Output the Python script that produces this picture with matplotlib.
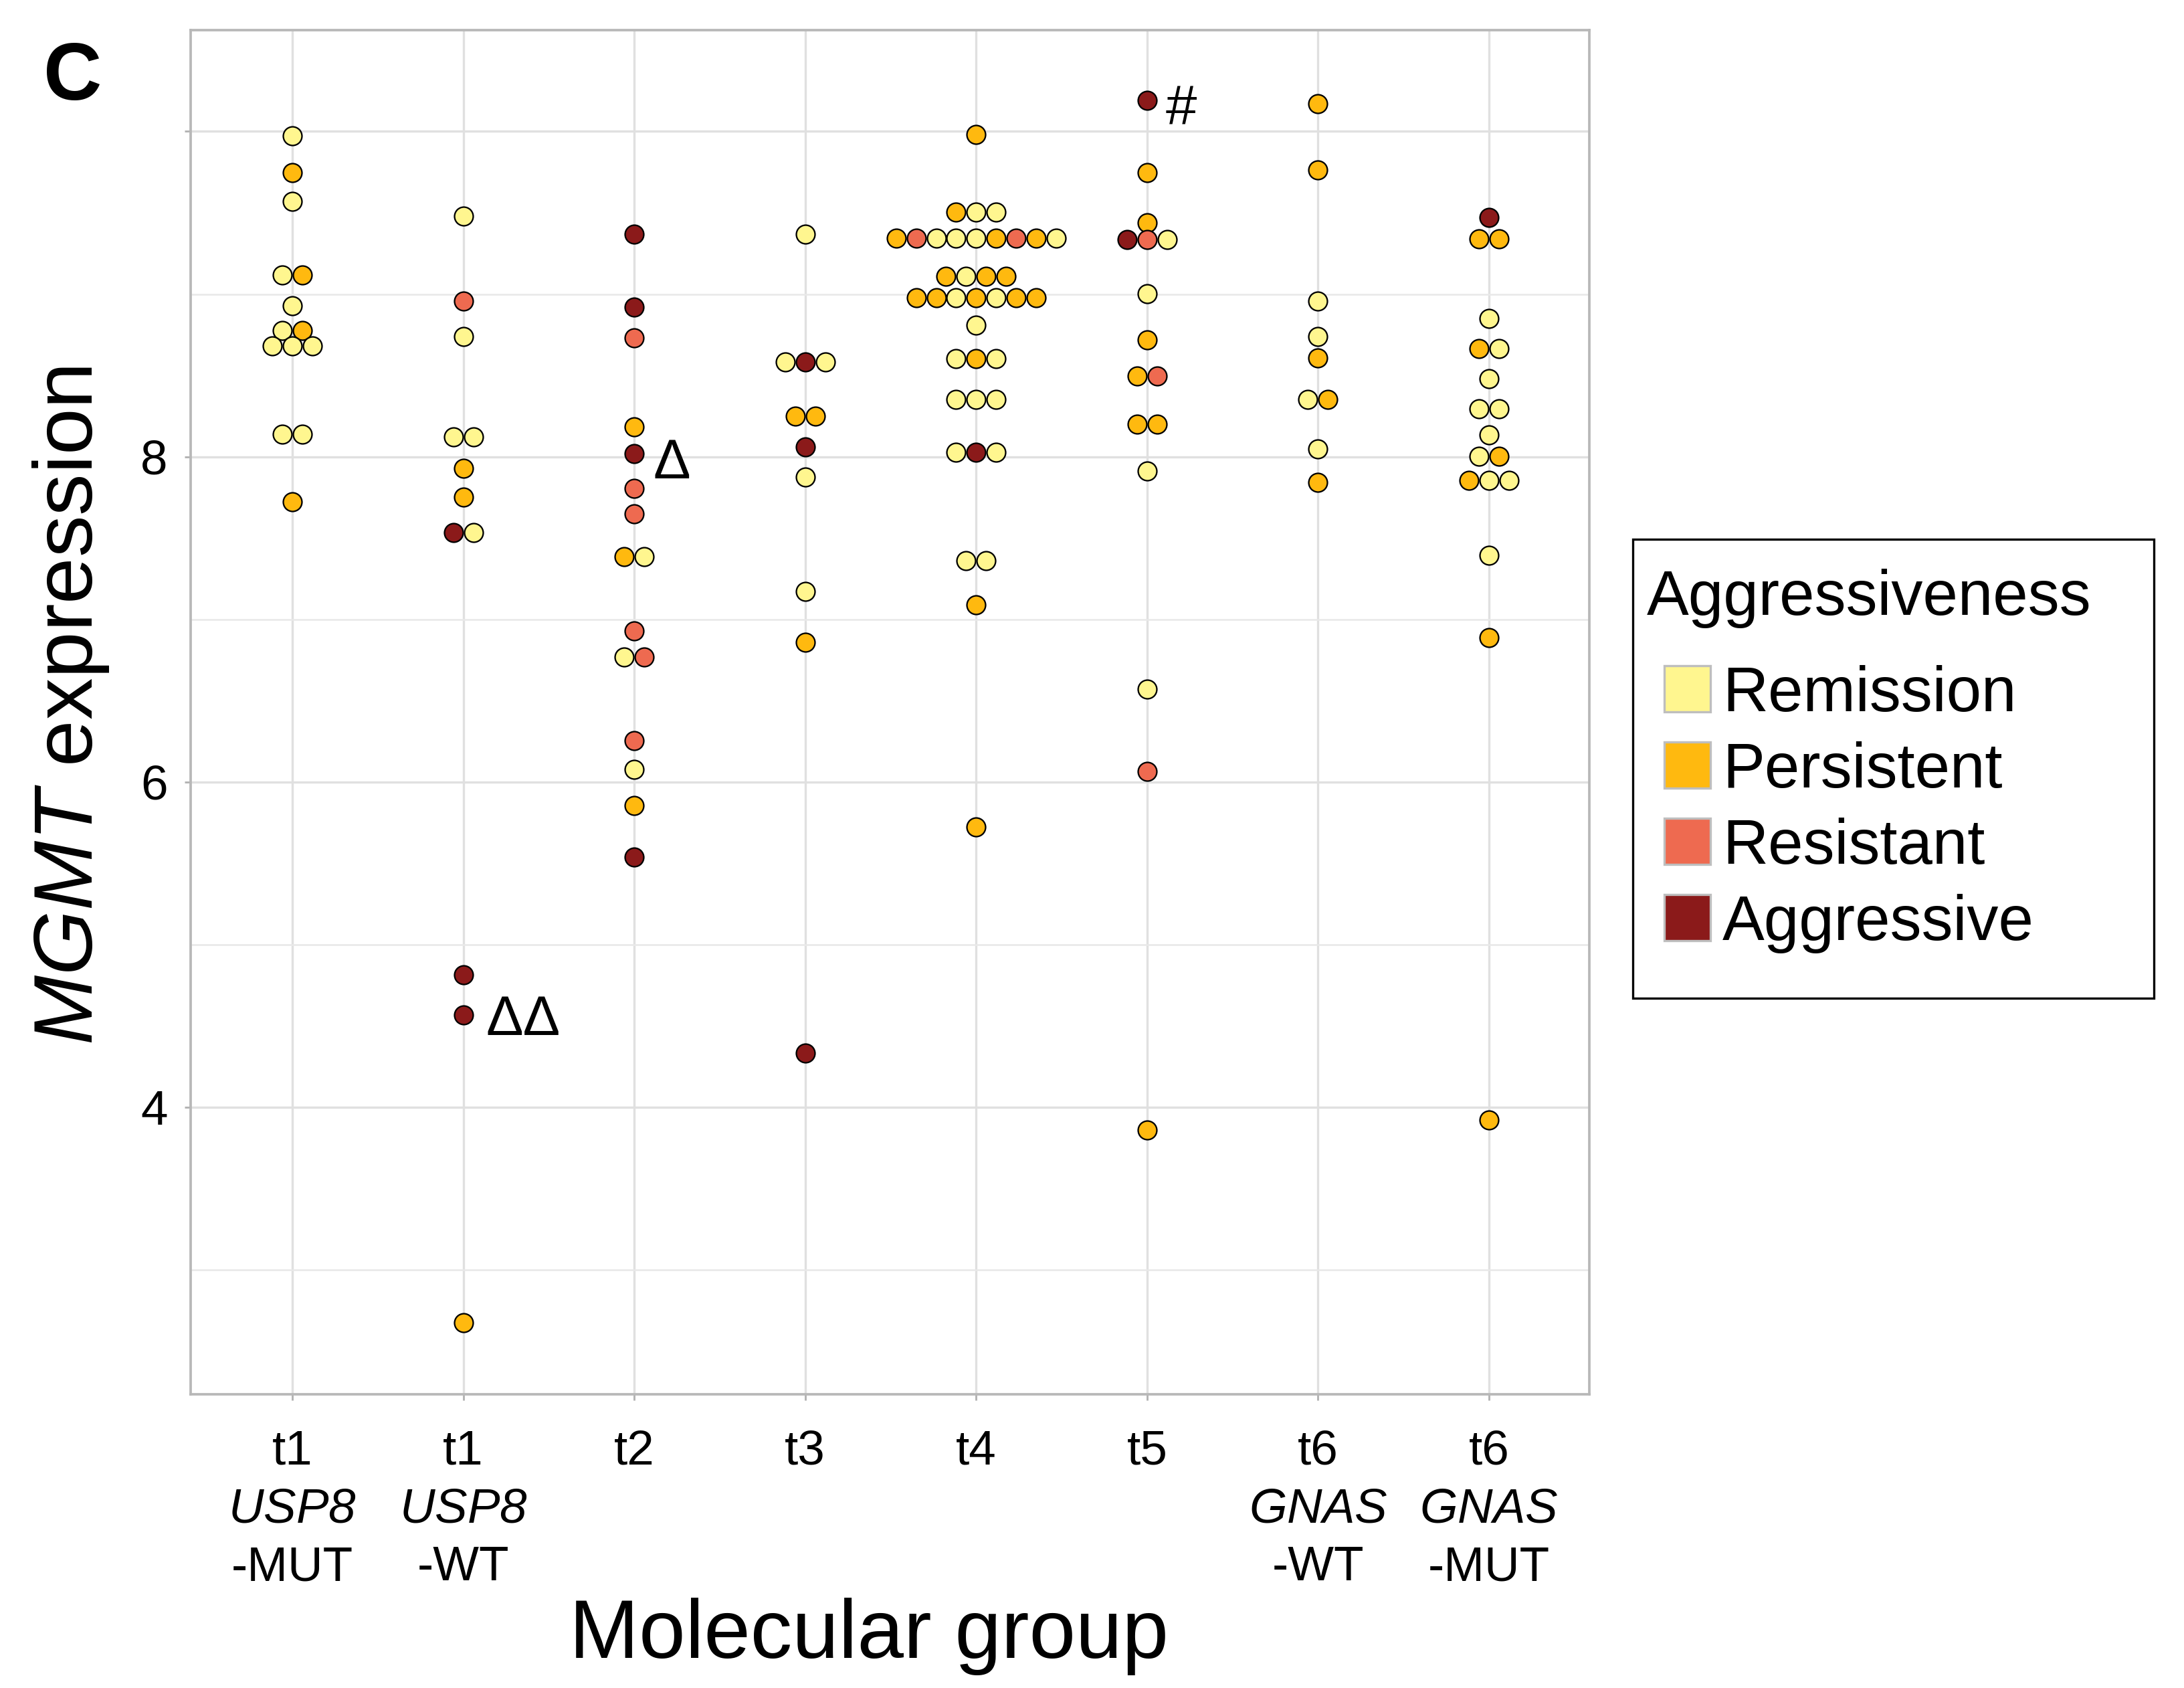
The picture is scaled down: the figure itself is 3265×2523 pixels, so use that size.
import matplotlib
matplotlib.use("Agg")
import matplotlib.pyplot as plt
from matplotlib.patches import Rectangle

plt.rcParams['font.family'] = 'Liberation Sans'
# math text is only used for the italic gene names, digits included
plt.rcParams['mathtext.fontset'] = 'custom'
plt.rcParams['mathtext.rm'] = 'Liberation Sans:italic'
plt.rcParams['mathtext.it'] = 'Liberation Sans:italic'

# Aggressiveness classes and their fill colours
classes = ["Remission", "Persistent", "Resistant", "Aggressive"]
class_codes = ["Rem", "Per", "Res", "Agg"]
class_colors = ["#FFF68F", "#FFB90F", "#EE6A50", "#8B1A1A"]

# Molecular groups (x axis)
group_labels = ["t1\n$\\mathit{USP8}$\n-MUT", "t1\n$\\mathit{USP8}$\n-WT", "t2", "t3",
                "t4", "t5", "t6\n$\\mathit{GNAS}$\n-WT", "t6\n$\\mathit{GNAS}$\n-MUT"]

# MGMT expression per sample, equal values sit in one row of the dot plot
t1_mut_vals = [9.973, 9.748, 9.572, 9.117, 9.117, 8.930, 8.776, 8.776,
               8.682, 8.682, 8.682, 8.138, 8.138, 7.724]
t1_mut_cls = ["Rem", "Per", "Rem", "Rem", "Per", "Rem", "Rem", "Per",
              "Rem", "Rem", "Rem", "Rem", "Rem", "Per"]

t1_wt_vals = [9.480, 8.957, 8.738, 8.123, 8.123, 7.929, 7.751, 7.535, 7.535,
              4.813, 4.567, 2.675]
t1_wt_cls = ["Rem", "Res", "Rem", "Rem", "Rem", "Per", "Per", "Agg", "Rem",
             "Agg", "Agg", "Per"]

t2_vals = [9.369, 8.921, 8.731, 8.183, 8.020, 7.806, 7.650, 7.385, 7.385,
           6.931, 6.768, 6.768, 6.256, 6.076, 5.856, 5.538]
t2_cls = ["Agg", "Agg", "Res", "Per", "Agg", "Res", "Res", "Per", "Rem",
          "Res", "Rem", "Res", "Res", "Rem", "Per", "Agg"]

t3_vals = [9.369, 8.584, 8.584, 8.584, 8.250, 8.250, 8.060, 7.875, 7.171,
           6.859, 4.334]
t3_cls = ["Rem", "Rem", "Agg", "Rem", "Per", "Per", "Agg", "Rem", "Rem",
          "Per", "Agg"]

t4_vals = [9.982,
           9.505, 9.505, 9.505,
           9.344, 9.344, 9.344, 9.344, 9.344, 9.344, 9.344, 9.344, 9.344,
           9.110, 9.110, 9.110, 9.110,
           8.979, 8.979, 8.979, 8.979, 8.979, 8.979, 8.979,
           8.809,
           8.604, 8.604, 8.604,
           8.352, 8.352, 8.352,
           8.029, 8.029, 8.029,
           7.360, 7.360,
           7.089, 5.725]
t4_cls = ["Per",
          "Per", "Rem", "Rem",
          "Per", "Res", "Rem", "Rem", "Rem", "Per", "Res", "Per", "Rem",
          "Per", "Rem", "Per", "Per",
          "Per", "Per", "Rem", "Per", "Rem", "Per", "Per",
          "Rem",
          "Rem", "Per", "Rem",
          "Rem", "Rem", "Rem",
          "Rem", "Agg", "Rem",
          "Rem", "Rem",
          "Per", "Per"]

t5_vals = [10.19, 9.748, 9.438, 9.336, 9.336, 9.336, 9.001, 8.720, 8.497, 8.497,
           8.201, 8.201, 7.911, 6.570, 6.066, 3.859]
t5_cls = ["Agg", "Per", "Per", "Agg", "Res", "Rem", "Rem", "Per", "Per", "Res",
          "Per", "Per", "Rem", "Rem", "Res", "Per"]

t6_wt_vals = [10.172, 9.764, 8.959, 8.738, 8.609, 8.352, 8.352, 8.047, 7.842]
t6_wt_cls = ["Per", "Per", "Rem", "Rem", "Per", "Rem", "Per", "Rem", "Per"]

t6_mut_vals = [9.471, 9.338, 9.338, 8.852, 8.667, 8.667, 8.480, 8.294, 8.294,
               8.134, 8.002, 8.002, 7.855, 7.855, 7.855, 7.394, 6.889, 3.921]
t6_mut_cls = ["Agg", "Per", "Per", "Rem", "Per", "Rem", "Rem", "Rem", "Rem",
              "Rem", "Rem", "Per", "Per", "Rem", "Rem", "Rem", "Per", "Per"]

groups = [(t1_mut_vals, t1_mut_cls), (t1_wt_vals, t1_wt_cls), (t2_vals, t2_cls),
          (t3_vals, t3_cls), (t4_vals, t4_cls), (t5_vals, t5_cls),
          (t6_wt_vals, t6_wt_cls), (t6_mut_vals, t6_mut_cls)]

# annotations: (group, y, text)
marks = [(6, 10.13, "#"), (3, 7.958, "\u0394"), (2, 4.535, "\u0394\u0394")]

W, H = 3265, 2523
fig = plt.figure(figsize=(W / 300, H / 300), dpi=300)
ax = fig.add_axes([285 / W, 1 - 2084 / H, (2376 - 285) / W, (2084 - 45) / H])

color_of = dict(zip(class_codes, class_colors))
step = 0.117  # horizontal distance between stacked dots

for gi, (vals, cls) in enumerate(groups):
    xpos = gi + 1
    rows = {}
    for v, c in zip(vals, cls):
        rows.setdefault(v, []).append(c)
    for v, row in rows.items():
        n = len(row)
        for k, c in enumerate(row):
            ax.scatter(xpos + (k - (n - 1) / 2) * step, v, s=6.7 ** 2,
                       facecolor=color_of[c], edgecolor="black",
                       linewidth=0.55, zorder=3)

for g, y, txt in marks:
    off = 0.2 if txt == "#" else (0.22 if len(txt) == 1 else 0.35)
    ax.text(g + off, y, txt, fontsize=20, ha="center", va="center", zorder=4)

ax.set_xlim(0.405, 8.587)
ax.set_ylim(2.236, 10.623)
ax.set_xticks(range(1, 9))
ax.set_xticklabels(group_labels)
for lab in ax.get_xticklabels():
    lab.set_linespacing(1.38)
ax.set_yticks([4, 6, 8, 10])
ax.set_yticklabels(["4", "6", "8", ""])
ax.set_yticks([3, 5, 7, 9], minor=True)

ax.set_axisbelow(True)
ax.grid(which="major", color="#E0E0E0", linewidth=0.8)
ax.grid(which="minor", axis="y", color="#E8E8E8", linewidth=0.6)
for sp in ax.spines.values():
    sp.set_color("#B8B8B8")
    sp.set_linewidth(0.9)
ax.tick_params(which="major", length=2.2, width=0.7, color="#B3B3B3",
               labelsize=17.5, labelcolor="black")
ax.tick_params(axis="x", pad=10.5)
ax.tick_params(axis="y", pad=6)
ax.tick_params(which="minor", length=0)

ax.set_ylabel("$\\mathit{MGMT}$ expression", fontsize=30)
ax.yaxis.set_label_coords(-0.057, 0.505)
ax.set_xlabel("Molecular group", fontsize=30)
ax.xaxis.set_label_coords(0.485, -0.149)

fig.text(109 / W, 1 - 117 / H, "C", fontsize=29, fontweight="bold",
         ha="center", va="center")

# legend drawn by hand to keep the ggplot look
def fx(px):
    return px / W

def fy(py):
    return 1 - py / H

fig.add_artist(Rectangle((fx(2441), fy(1492)), fx(3220) - fx(2441), fy(806) - fy(1492),
                         transform=fig.transFigure, facecolor="white",
                         edgecolor="black", linewidth=0.8))
fig.text(fx(2462), fy(919), "Aggressiveness", fontsize=22.6, ha="left", va="baseline")
for i, (name, col) in enumerate(zip(classes, class_colors)):
    top = 995 + i * 114
    fig.add_artist(Rectangle((fx(2488), fy(top + 69)), 69 / W, 69 / H,
                             transform=fig.transFigure, facecolor=col,
                             edgecolor="#BEBEBE", linewidth=0.8))
    fig.text(fx(2575), fy(top + 68), name, fontsize=22.6, ha="left", va="baseline")

fig.savefig("out.png", dpi=300)
